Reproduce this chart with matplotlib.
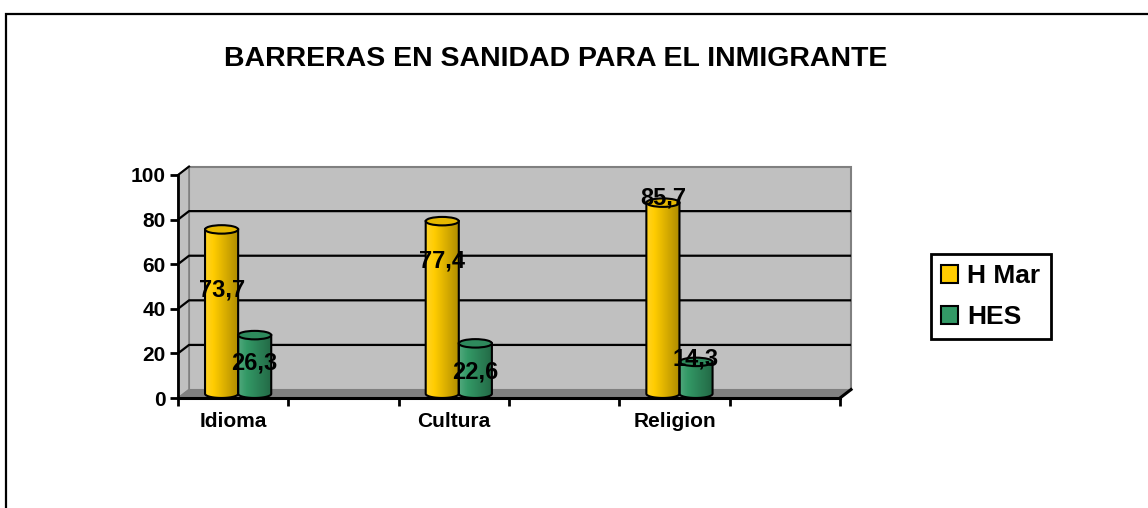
import numpy as np
import matplotlib
matplotlib.use("Agg")
import matplotlib.pyplot as plt
from matplotlib.patches import Polygon, Ellipse, PathPatch, Rectangle, Patch
from matplotlib.path import Path
from matplotlib.colors import to_rgb

plt.rcParams['font.family'] = ['Liberation Sans', 'DejaVu Sans']
plt.rcParams['font.weight'] = 'bold'

# data
categories = ['Idioma', 'Cultura', 'Religion']
series_names = ['H Mar', 'HES']
h_mar = [73.7, 77.4, 85.7]
hes = [26.3, 22.6, 14.3]
yticks = [0, 20, 40, 60, 80, 100]

# where Excel put the data labels (y in axis units)
label_y = [[48.4, 61.3, 89.5], [15.5, 11.8, 17.4]]

colors = ['#FFCC00', '#339966']

# pseudo-3D depth offset in data units
ddx, ddy = 0.10, 3.8
bar_w = 0.30
slot = 2  # every category takes two axis slots
n_slots = slot * len(categories)

fig = plt.figure(figsize=(11.48, 5.08), dpi=100)
ax = fig.add_axes([178 / 1148, 110 / 508, 662 / 1148, 223 / 508])
ax.set_xlim(0, n_slots)
ax.set_ylim(0, 100)
ax.patch.set_visible(False)

# walls and floor
wall = '#C0C0C0'
edge = '#808080'
ax.add_patch(Polygon([(ddx, ddy), (n_slots + ddx, ddy), (n_slots + ddx, 100 + ddy), (ddx, 100 + ddy)],
                     closed=True, facecolor=wall, edgecolor=edge, lw=1.5, clip_on=False, zorder=0))
ax.add_patch(Polygon([(0, 0), (ddx, ddy), (ddx, 100 + ddy), (0, 100)],
                     closed=True, facecolor=wall, edgecolor=edge, lw=1.2, clip_on=False, zorder=0))
ax.add_patch(Polygon([(0, 0), (n_slots, 0), (n_slots + ddx, ddy), (ddx, ddy)],
                     closed=True, facecolor='#808080', edgecolor='#808080', lw=0.5, clip_on=False, zorder=0.5))

for v in yticks[1:-1]:
    ax.plot([0, ddx, n_slots + ddx], [v, v + ddy, v + ddy], color='black', lw=1.6,
            clip_on=False, zorder=1, solid_capstyle='butt')
ax.plot([0, ddx], [100, 100 + ddy], color='black', lw=1.5, clip_on=False, zorder=3)
ax.plot([n_slots, n_slots + ddx], [0, ddy], color='black', lw=2.2, clip_on=False, zorder=3)


def shade(base, n=64):
    c = np.array(to_rgb(base))
    light = c + (1 - c) * 0.15
    dark = c * 0.68
    t = np.linspace(0, 1, n)
    cols = np.empty((1, n, 3))
    for i, s in enumerate(t):
        if s < 0.25:
            k = s / 0.25
            cols[0, i] = light * (1 - k) + c * k
        else:
            k = (s - 0.25) / 0.75
            cols[0, i] = c * (1 - k) + dark * k
    return np.clip(cols, 0, 1)


def cylinder(x0, value, base):
    cx = x0 + bar_w / 2
    cy = ddy / 2
    a, b = bar_w / 2, ddy / 2
    left, right = cx - a, cx + a
    theta = np.linspace(np.pi, 2 * np.pi, 40)
    arc = np.column_stack([cx + a * np.cos(theta), cy + b * np.sin(theta)])
    verts = np.vstack([[left, cy + value], arc, [right, cy + value], [left, cy + value]])
    path = Path(verts, closed=True)
    body = PathPatch(path, facecolor='none', edgecolor='black', lw=1.5, zorder=4)
    im = ax.imshow(shade(base), extent=[left, right, 0, cy + value], aspect='auto',
                   interpolation='bilinear', zorder=3)
    ax.add_patch(body)
    im.set_clip_path(body)
    top = np.array(to_rgb(base)) * 0.9
    ax.add_patch(Ellipse((cx, cy + value), 2 * a, 2 * b, facecolor=top, edgecolor='black',
                         lw=1.5, zorder=5))
    return cx


for s, (vals, col) in enumerate(zip([h_mar, hes], colors)):
    for i, v in enumerate(vals):
        x0 = slot * i + 0.245 + s * bar_w
        cx = cylinder(x0, v, col)
        ax.text(cx, label_y[s][i], f"{v:.1f}".replace('.', ','), ha='center', va='center',
                fontsize=17, fontweight='bold', color='black', zorder=6)

# axes
for side in ['top', 'right']:
    ax.spines[side].set_visible(False)
ax.spines['left'].set_linewidth(2)
ax.spines['bottom'].set_linewidth(2.2)
ax.spines['left'].set_zorder(6)
ax.spines['bottom'].set_zorder(6)

ax.set_yticks(yticks)
ax.set_yticklabels([str(t) for t in yticks], fontsize=15, fontweight='bold')
ax.tick_params(axis='y', length=6, width=2, pad=3)

ax.set_xticks(range(0, n_slots + 1))
ax.set_xticklabels([])
ax.set_xticks([slot * i + 0.5 for i in range(len(categories))], minor=True)
ax.set_xticklabels(categories, minor=True, fontsize=15, fontweight='bold')
ax.tick_params(axis='x', which='major', length=6, width=2)
ax.tick_params(axis='x', which='minor', length=0, pad=10)

fig.text(556 / 1148, 1 - 59 / 508, 'BARRERAS EN SANIDAD PARA EL INMIGRANTE',
         ha='center', va='center', fontsize=20.5, fontweight='bold')

handles = [Patch(facecolor=c, edgecolor='black', lw=1.5) for c in colors]
leg = fig.legend(handles, series_names, loc='upper left', bbox_to_anchor=(931 / 1148, 1 - 254 / 508),
                 prop={'weight': 'bold', 'size': 19}, fancybox=False, framealpha=1,
                 edgecolor='black', handlelength=0.65, handleheight=0.65, handletextpad=0.35,
                 labelspacing=0.65, borderpad=0.38, borderaxespad=0)
leg.get_frame().set_linewidth(2)

# outer chart frame
fig.patches.append(Rectangle((6 / 1148, -0.1), 1.2, 1.1 - 14 / 508, transform=fig.transFigure,
                             fill=False, edgecolor='black', lw=1.6))

fig.savefig('out.png', dpi=100)
